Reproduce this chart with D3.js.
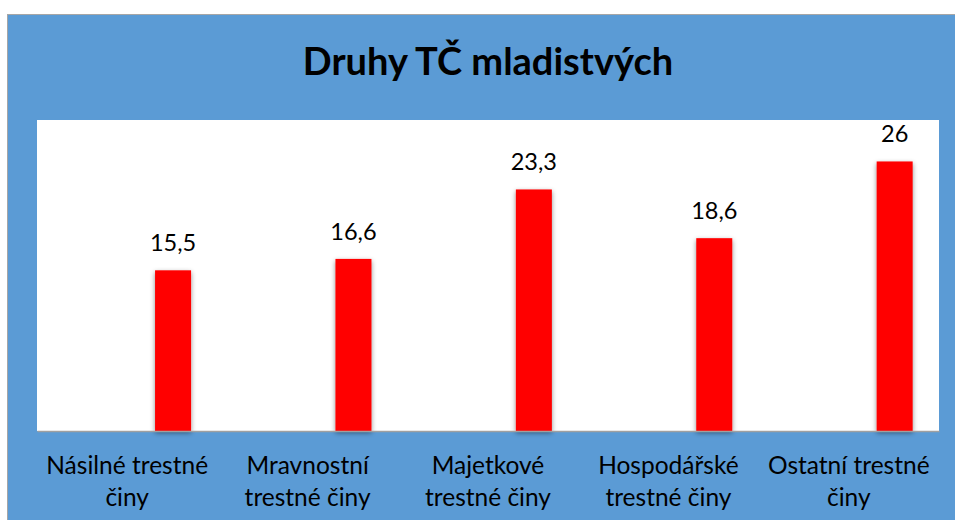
<!DOCTYPE html>
<html>
<head>
<meta charset="utf-8">
<script src="https://cdn.jsdelivr.net/npm/d3@7"></script>
<style>
  html, body { margin: 0; padding: 0; background: #fff; }
  svg { display: block; font-family: Lato, 'Open Sans', sans-serif; }
</style>
</head>
<body>
<div id="chart"></div>
<script>
// data
const title = 'Druhy TČ mladistvých'
const categories = [
  ['Násilné trestné', 'činy'],
  ['Mravnostní', 'trestné činy'],
  ['Majetkové', 'trestné činy'],
  ['Hospodářské', 'trestné činy'],
  ['Ostatní trestné', 'činy']
]
const values = [15.5, 16.6, 23.3, 18.6, 26]
const series = ['prazdna', 'hodnota'] // excel cluster, first series empty
const yDomain = [0, 30]

const width = 955
const height = 520
const plot = { left: 37, right: 939, top: 120, bottom: 431 }

const svg = d3.select('#chart')
  .append('svg')
  .attr('width', width)
  .attr('height', height)

const defs = svg.append('defs')
const shadow = defs.append('filter')
  .attr('id', 'shadow')
  .attr('x', '-50%').attr('y', '-10%')
  .attr('width', '200%').attr('height', '120%')
shadow.append('feDropShadow')
  .attr('dx', 0).attr('dy', 2)
  .attr('stdDeviation', 2.5)
  .attr('flood-color', '#000')
  .attr('flood-opacity', 0.45)

// blue chart background with thin gray edge
svg.append('rect')
  .attr('x', 7.5).attr('y', 14.5)
  .attr('width', width).attr('height', height)
  .attr('fill', '#5b9bd5')
  .attr('stroke', '#a6a6a6')
  .attr('stroke-width', 1)

// plot area
svg.append('rect')
  .attr('x', plot.left).attr('y', plot.top)
  .attr('width', plot.right - plot.left)
  .attr('height', plot.bottom - plot.top)
  .attr('fill', '#fff')

const x = d3.scaleBand()
  .domain(d3.range(categories.length))
  .range([plot.left, plot.right])

const xInner = d3.scaleBand()
  .domain(series)
  .range([x.bandwidth() * 0.144, x.bandwidth() * 0.854])
  .paddingInner(0.609)

const y = d3.scaleLinear()
  .domain(yDomain)
  .range([plot.bottom, plot.top])

// bars
svg.append('g')
  .selectAll('rect')
  .data(values)
  .join('rect')
  .attr('x', (d, i) => x(i) + xInner('hodnota'))
  .attr('y', d => y(d))
  .attr('width', xInner.bandwidth())
  .attr('height', d => y(0) - y(d))
  .attr('fill', '#ff0000')
  .attr('filter', 'url(#shadow)')

// baseline
svg.append('g')
  .attr('transform', `translate(0,${plot.bottom})`)
  .call(d3.axisBottom(x).tickSize(0).tickFormat(''))
  .call(g => g.select('.domain').attr('stroke', '#a0a0a0').attr('stroke-width', 1.5))

// value labels
const fmt = d => String(d).replace('.', ',')
svg.append('g')
  .selectAll('text')
  .data(values)
  .join('text')
  .attr('x', (d, i) => x(i) + xInner('hodnota') + xInner.bandwidth() / 2)
  .attr('y', d => y(d) - 19)
  .attr('text-anchor', 'middle')
  .attr('font-size', 23.5)
  .attr('fill', '#000')
  .text(fmt)

// category labels
const labels = svg.append('g')
  .selectAll('text')
  .data(categories)
  .join('text')
  .attr('text-anchor', 'middle')
  .attr('font-size', 24.5)
  .attr('fill', '#000')

labels.selectAll('tspan')
  .data((d, i) => d.map(t => ({ t, i })))
  .join('tspan')
  .attr('x', d => x(d.i) + x.bandwidth() / 2)
  .attr('y', (d, j) => 474 + j * 32)
  .text(d => d.t)

// title
svg.append('text')
  .attr('x', 488)
  .attr('y', 75)
  .attr('text-anchor', 'middle')
  .attr('font-size', 38)
  .attr('font-weight', 'bold')
  .attr('fill', '#000')
  .text(title)
</script>
</body>
</html>
